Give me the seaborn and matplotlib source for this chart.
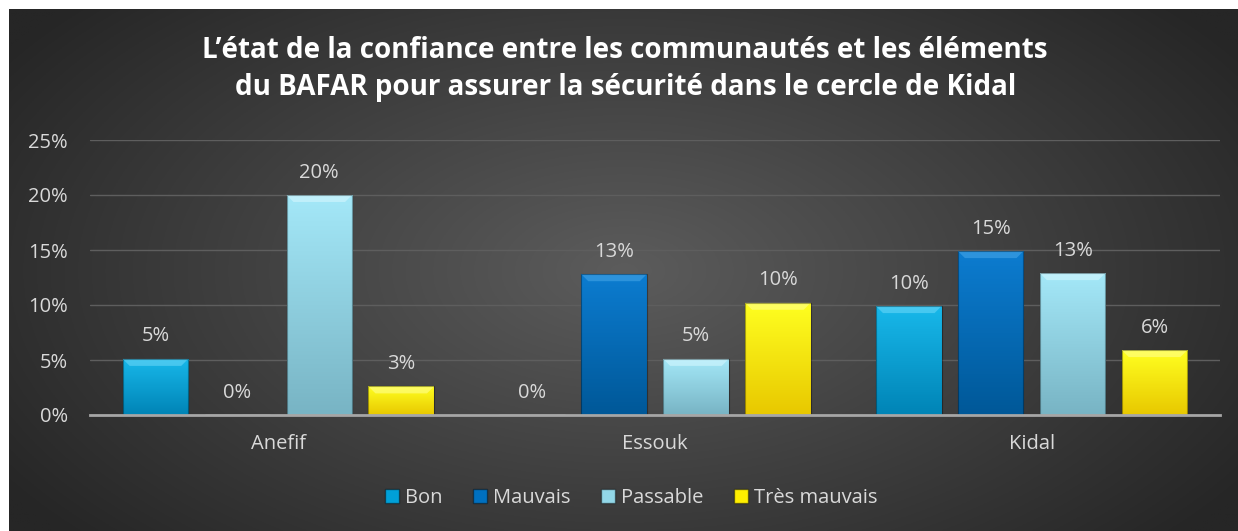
import numpy as np
import pandas as pd
import matplotlib
matplotlib.use("Agg")
import matplotlib.pyplot as plt
import seaborn as sns
from matplotlib.colors import LinearSegmentedColormap, to_rgb
from matplotlib.patches import Polygon

# ---- data ----
categories = ["Anefif", "Essouk", "Kidal"]
series = ["Bon", "Mauvais", "Passable", "Très mauvais"]
bon = [5.1, 0.0, 9.9]
mauvais = [0.0, 12.8, 14.9]
passable = [20.0, 5.1, 12.9]
tres_mauvais = [2.6, 10.2, 5.9]
yticks = [0, 5, 10, 15, 20, 25]
title = ("L’état de la confiance entre les communautés et les éléments\n"
         "du BAFAR pour assurer la sécurité dans le cercle de Kidal")

colors = ["#00a0d8", "#0070c0", "#92d7e8", "#ffef00"]
tops = ["#18b8ea", "#0c7cd0", "#a4e8f8", "#ffff20"]
bottoms = ["#0084b6", "#005898", "#78b4c4", "#e8c800"]
bevels = ["#6fd8f8", "#4aa8e8", "#d8f8ff", "#ffff9a"]

df = pd.DataFrame({
    "cat": np.repeat(categories, len(series)),
    "serie": series * len(categories),
    "val": [v for trio in zip(bon, mauvais, passable, tres_mauvais) for v in trio],
})

sns.set_theme(style="dark")
plt.rcParams["font.family"] = ["Open Sans", "DejaVu Sans"]

W, H = 1238, 531
fig = plt.figure(figsize=(W / 100, H / 100), dpi=100)
fig.patch.set_facecolor("white")

# background panel with radial gradient
bg = fig.add_axes([9 / W, 0, 1 - 9 / W, 1 - 9 / H], zorder=-10)
yy, xx = np.mgrid[0:300, 0:700]
cx, cy = 350, 150
r = np.sqrt(((xx - cx) / 420) ** 2 + ((yy - cy) / 230) ** 2)
r = np.clip(r, 0, 1)
c0 = np.array(to_rgb("#5c5c5c"))
c1 = np.array(to_rgb("#262626"))
img = c0[None, None, :] * (1 - r[..., None]) + c1[None, None, :] * r[..., None]
bg.imshow(img, aspect="auto", extent=[0, 1, 0, 1])
bg.set_axis_off()

ax_bottom_px, ax_top_px = 415, 140
ax = fig.add_axes([90 / W, (H - ax_bottom_px) / H, (1220 - 90) / W,
                   (ax_bottom_px - ax_top_px) / H])
ax.patch.set_alpha(0)

sns.barplot(data=df, x="cat", y="val", hue="serie", hue_order=series,
            palette=colors, width=0.87, gap=0.2, ax=ax, legend=True,
            saturation=1, errorbar=None, zorder=3)

ax.set_xlim(-0.5, 2.5)
ax.set_ylim(0, 25)

# pixel -> data scale for the bevel
px_y = 25 / (ax_bottom_px - ax_top_px)
px_x = 3 / (1220 - 90)
bev = 7

for cont, top_c, bot_c, bev_c in zip(ax.containers, tops, bottoms, bevels):
    cmap = LinearSegmentedColormap.from_list("g", [bot_c, top_c])
    for p in cont:
        x0, y0 = p.get_x(), p.get_y()
        w, h = p.get_width(), p.get_height()
        if h <= 0:
            continue
        grad = np.linspace(0, 1, 100).reshape(-1, 1)
        im = ax.imshow(grad, cmap=cmap, aspect="auto", origin="lower",
                       extent=[x0, x0 + w, y0, y0 + h], zorder=3.5)
        im.set_clip_path(p)
        bh = min(bev * px_y, h * 0.3)
        bw = bev * px_x
        ax.add_patch(Polygon([[x0, h], [x0 + w, h], [x0 + w - bw, h - bh], [x0 + bw, h - bh]],
                             closed=True, facecolor=bev_c, alpha=0.55, edgecolor="none",
                             zorder=3.6))
        p.set_edgecolor((0, 0, 0, 0.35))
        p.set_linewidth(0.8)
        p.set_zorder(3.7)
        p.set_facecolor("none")
    ax.bar_label(cont, labels=[f"{round(v.get_height())}%" for v in cont],
                 padding=9, color="#d9d9d9", fontsize=14.5)

ax.set_yticks(yticks)
ax.set_yticklabels([f"{t}%" for t in yticks])
ax.tick_params(axis="y", colors="#d9d9d9", labelsize=14.5, length=0, pad=16)
ax.tick_params(axis="x", colors="#d9d9d9", labelsize=14.5, length=0, pad=14)
ax.set_xlabel("")
ax.set_ylabel("")
ax.grid(axis="y", color="#5e5e5e", linewidth=1, zorder=0)
ax.grid(axis="x", visible=False)
for s in ["top", "right", "left"]:
    ax.spines[s].set_visible(False)
ax.spines["bottom"].set_color("#a6a6a6")
ax.spines["bottom"].set_linewidth(2)
ax.spines["bottom"].set_zorder(5)

handles, labels = ax.get_legend_handles_labels()
ax.legend_.remove()
leg = fig.legend(handles, labels, loc="center", bbox_to_anchor=(0.51, (H - 498) / H),
                 ncol=4, frameon=False, fontsize=14.5, handlelength=0.7, handleheight=0.7,
                 handletextpad=0.3, columnspacing=1.5)
for t in leg.get_texts():
    t.set_color("#d9d9d9")
for hnd, c in zip(leg.legend_handles, colors):
    hnd.set_facecolor(c)
    hnd.set_edgecolor((0, 0, 0, 0.4))

fig.text(0.505, (H - 69) / H, title, ha="center", va="center", color="white",
         fontsize=20, fontweight="bold", linespacing=1.4)

fig.savefig("out.png", dpi=100, facecolor=fig.get_facecolor())
